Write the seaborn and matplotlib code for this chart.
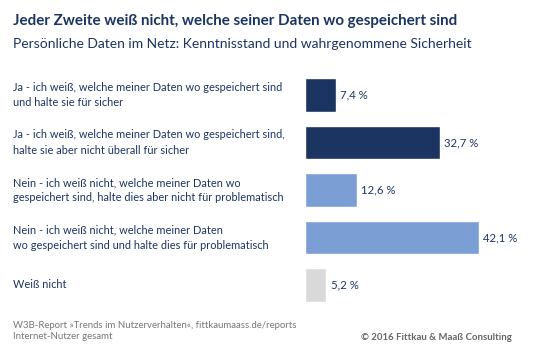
import matplotlib
matplotlib.use("Agg")
import matplotlib.pyplot as plt
import matplotlib.transforms as mtransforms
import seaborn as sns
import pandas as pd

# Data
categories = [
    "Ja - ich weiß, welche meiner Daten wo gespeichert sind\nund halte sie für sicher",
    "Ja - ich weiß, welche meiner Daten wo gespeichert sind,\nhalte sie aber nicht überall für sicher",
    "Nein - ich weiß nicht, welche meiner Daten wo\ngespeichert sind, halte dies aber nicht für problematisch",
    "Nein - ich weiß nicht, welche meiner Daten\nwo gespeichert sind und halte dies für problematisch",
    "Weiß nicht",
]
values = [7.4, 32.7, 12.6, 42.1, 5.2]
value_labels = ["7,4 %", "32,7 %", "12,6 %", "42,1 %", "5,2 %"]
bar_colors = ["#1c3461", "#1c3461", "#7b9fd4", "#7b9fd4", "#d9d9d9"]

title = "Jeder Zweite weiß nicht, welche seiner Daten wo gespeichert sind"
subtitle = "Persönliche Daten im Netz: Kenntnisstand und wahrgenommene Sicherheit"
source = "W3B-Report »Trends im Nutzerverhalten«, fittkaumaass.de/reports\nInternet-Nutzer gesamt"
copyright_txt = "© 2016 Fittkau & Maaß Consulting"

navy = "#1c3461"

sns.set_theme(style="white")
plt.rcParams["font.family"] = ["Lato", "DejaVu Sans"]

df = pd.DataFrame({"cat": categories, "val": values})

fig = plt.figure(figsize=(5.6, 3.5), dpi=100)
W, H = 560, 350
ax = fig.add_axes([305 / W, 1 - 308.75 / H, 235 / W, 237.5 / H])

sns.barplot(data=df, x="val", y="cat", hue="cat", palette=bar_colors,
            order=categories, hue_order=categories, legend=False,
            width=0.7, ax=ax, saturation=1)

ax.set_xlim(0, 235 / 4.13)
ax.set_ylim(4.5, -0.5)
ax.axis("off")

# value labels
for i, (v, lab) in enumerate(zip(values, value_labels)):
    ax.text(v + 1.0, i, lab, va="center", ha="left", fontsize=8.2, color=navy)

# category labels on the left
trans = mtransforms.blended_transform_factory(fig.transFigure, ax.transData)
for i, c in enumerate(categories):
    ax.text(13 / W, i, c, transform=trans, va="center", ha="left",
            fontsize=7.9, color=navy, linespacing=1.45)

fig.text(13 / W, 1 - 21 / H, title, fontsize=10.9, fontweight="bold",
         color=navy, va="center", ha="left")
fig.text(13 / W, 1 - 44 / H, subtitle, fontsize=10, color=navy,
         va="center", ha="left")
fig.text(13 / W, 1 - 331 / H, source, fontsize=6.9, color="#777777",
         va="center", ha="left", linespacing=1.35)
fig.text(512 / W, 1 - 337 / H, copyright_txt, fontsize=6.9, color="#666666",
         fontweight="bold", va="center", ha="right")

fig.savefig("out.png", dpi=100)
